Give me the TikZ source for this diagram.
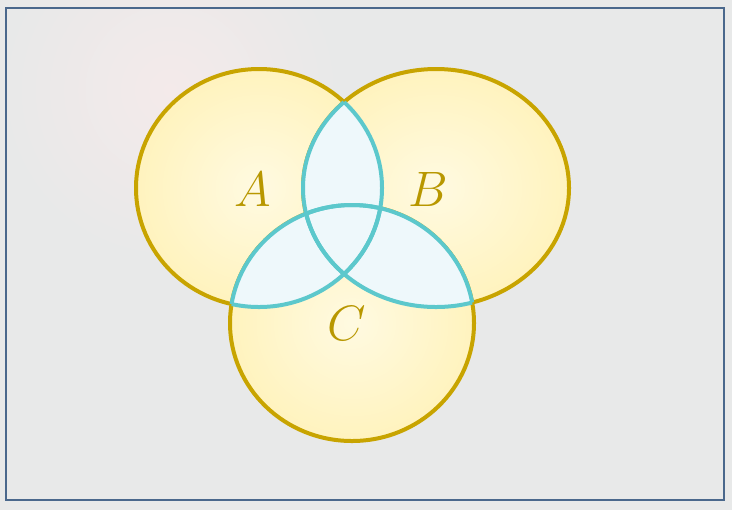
\documentclass[tikz,border=0pt]{standalone}
\definecolor{setgold}{RGB}{200,164,0}
\definecolor{setfill}{RGB}{255,243,190}
\definecolor{setlight}{RGB}{255,250,225}
\definecolor{lensfill}{RGB}{238,248,251}
\definecolor{lensline}{RGB}{92,200,204}
\definecolor{framecol}{RGB}{74,104,140}
\definecolor{bgcol}{RGB}{232,233,233}
\definecolor{bgpink}{RGB}{244,234,234}
\begin{document}
\begin{tikzpicture}[x=0.5pt, y=-0.5pt,
	setline/.style={draw=setgold, line width=2pt, inner color=setlight, outer color=setfill},
	lensline/.style={draw=lensline, line width=2pt},
	setlabel/.style={text=setgold!92!black, inner sep=0pt, font=\fontsize{24}{28}\selectfont}]
	\useasboundingbox (0,0) rectangle (732,510);
	\fill[bgcol] (0,0) rectangle (732,510);
	\begin{scope}
		\clip (0,0) rectangle (732,510);
		\shade[inner color=bgpink, outer color=bgcol] (170,90) circle (170);
	\end{scope}
	\draw[framecol, line width=1pt] (6,8) rectangle (724,500);
	
	\def\setA{(259,188) ellipse (123 and 119)}
	\def\setB{(436,188) ellipse (133 and 119)}
	\def\setC{(352,323) ellipse (122 and 118)}
	\foreach \s in {\setA, \setB, \setC} {
		\shadedraw[setline] \s;
	}
	
	% pairwise intersections
	\foreach \u/\v in {\setA/\setB, \setA/\setC, \setB/\setC} {
		\begin{scope}
			\clip \u;
			\fill[lensfill] \v;
		\end{scope}
	}
	\foreach \u/\v in {\setA/\setB, \setB/\setA, \setA/\setC, \setC/\setA, \setB/\setC, \setC/\setB} {
		\begin{scope}
			\clip \u;
			\draw[lensline] \v;
		\end{scope}
	}
	
	\node[setlabel] (labA) at (253,189) {$A$};
	\node[setlabel] (labB) at (428,189) {$B$};
	\node[setlabel] (labC) at (347,323) {$C$};
\end{tikzpicture}
\end{document}
